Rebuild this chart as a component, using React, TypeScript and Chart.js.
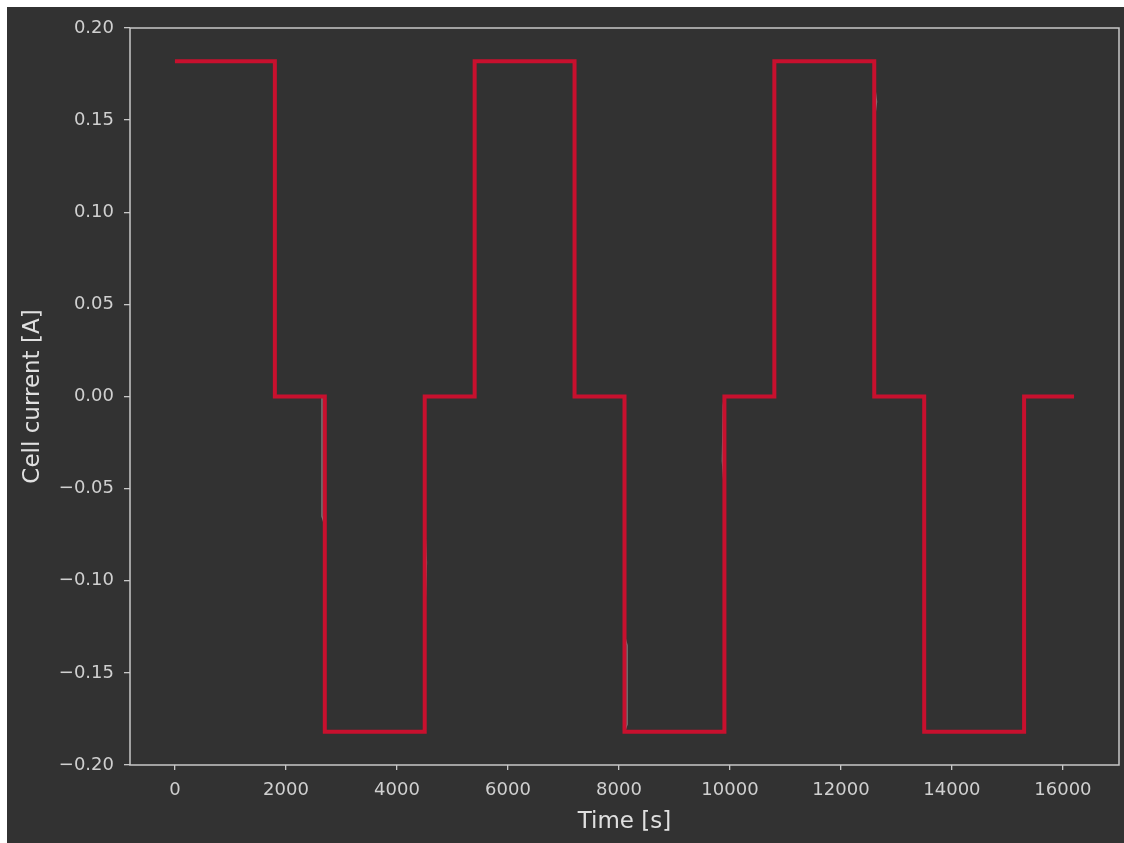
import { useEffect, useRef } from "react";
import { Chart, registerables } from "chart.js";

Chart.register(...registerables);

// Applied current profile: step boundaries [s] and the level held until the next boundary [A]
const stepTimes = [0, 1800, 2700, 4500, 5400, 7200, 8100, 9900, 10800, 12600, 13500, 15300, 16200];
const stepLevels = [0.182, 0, -0.182, 0, 0.182, 0, -0.182, 0, 0.182, 0, -0.182, 0];

// Logged current trace (mostly hidden under the applied profile)
const loggedTime = [
  0, 1800, 1800, 2650, 2650, 2700, 2700, 4500, 4500, 4530, 4500, 4500, 5400, 5400, 7200, 7200,
  8100, 8100, 8145, 8145, 8100, 9900, 9900, 9865, 9880, 9900, 10800, 10800, 12600, 12600,
  12640, 12600, 12600, 13500, 13500, 15300, 15300, 16200,
];
const loggedCurrent = [
  0.182, 0.182, 0, 0, -0.065, -0.07, -0.182, -0.182, -0.12, -0.09, -0.07, 0, 0, 0.182, 0.182, 0,
  0, -0.13, -0.135, -0.178, -0.182, -0.182, -0.05, -0.035, -0.005, 0, 0, 0.182, 0.182, 0.17,
  0.16, 0.15, 0, 0, -0.182, -0.182, 0, 0,
];

const xTicks = [0, 2000, 4000, 6000, 8000, 10000, 12000, 14000, 16000];
const yTicks = [-0.2, -0.15, -0.1, -0.05, 0, 0.05, 0.1, 0.15, 0.2];

const xLimits = [-810, 17010];
const yLimits = [-0.2, 0.2];

const FONT = "'DejaVu Sans', sans-serif";
const TICK_COLOR = "#d0d0d0";
const FRAME_COLOR = "#c8c8c8";

const minus = (s: string) => s.replace("-", "\u2212");

const framePlugin = {
  id: "frame",
  afterDatasetsDraw(chart: any) {
    const { ctx, chartArea } = chart;
    ctx.save();
    ctx.strokeStyle = FRAME_COLOR;
    ctx.lineWidth = 1.5;
    ctx.strokeRect(chartArea.left, chartArea.top, chartArea.right - chartArea.left, chartArea.bottom - chartArea.top);
    ctx.restore();
  },
};

export default function App() {
  const canvasRef = useRef<HTMLCanvasElement | null>(null);

  useEffect(() => {
    const canvas = canvasRef.current;
    if (!canvas) return;

    const appliedPoints: { x: number; y: number }[] = [];
    for (let i = 0; i < stepLevels.length; i++) {
      appliedPoints.push({ x: stepTimes[i], y: stepLevels[i] });
      appliedPoints.push({ x: stepTimes[i + 1], y: stepLevels[i] });
    }
    const loggedPoints = loggedTime.map((t, i) => ({ x: t, y: loggedCurrent[i] }));

    const chart = new Chart(canvas, {
      type: "line",
      data: {
        datasets: [
          {
            data: appliedPoints,
            borderColor: "#c8102e",
            borderWidth: 4,
            pointRadius: 0,
            borderJoinStyle: "miter",
            borderCapStyle: "butt",
            tension: 0,
            order: 0,
          },
          {
            data: loggedPoints,
            borderColor: "rgba(220,220,220,0.45)",
            borderWidth: 1.5,
            pointRadius: 0,
            tension: 0,
            order: 1,
          },
        ],
      },
      options: {
        responsive: false,
        animation: false,
        parsing: false,
        normalized: true,
        layout: { padding: { top: 21, right: 5, left: 0, bottom: 0 } },
        plugins: {
          legend: { display: false },
          tooltip: { enabled: false },
        },
        scales: {
          x: {
            type: "linear",
            min: xLimits[0],
            max: xLimits[1],
            afterBuildTicks: (scale: any) => {
              scale.ticks = xTicks.map((v) => ({ value: v }));
            },
            afterFit: (scale: any) => {
              scale.height = 78;
            },
            grid: {
              drawOnChartArea: false,
              drawTicks: true,
              tickLength: 5,
              color: FRAME_COLOR,
              lineWidth: 1.3,
            },
            border: { display: false },
            ticks: {
              color: TICK_COLOR,
              font: { family: FONT, size: 18 },
              padding: 10,
              maxRotation: 0,
              autoSkip: false,
              callback: (v: any) => minus(String(v)),
            },
            title: {
              display: true,
              text: "Time [s]",
              color: "#e0e0e0",
              font: { family: FONT, size: 23 },
              padding: { top: 0, bottom: 7 },
            },
          },
          y: {
            type: "linear",
            min: yLimits[0],
            max: yLimits[1],
            afterBuildTicks: (scale: any) => {
              scale.ticks = yTicks.map((v) => ({ value: v }));
            },
            afterFit: (scale: any) => {
              scale.width = 123;
            },
            grid: {
              drawOnChartArea: false,
              drawTicks: true,
              tickLength: 6,
              color: FRAME_COLOR,
              lineWidth: 1.3,
            },
            border: { display: false },
            ticks: {
              color: TICK_COLOR,
              font: { family: FONT, size: 18 },
              padding: 10,
              autoSkip: false,
              callback: (v: any) => minus(Number(v).toFixed(2)),
            },
            title: {
              display: true,
              text: "Cell current [A]",
              color: "#e0e0e0",
              font: { family: FONT, size: 23 },
              padding: { top: 12, bottom: 0 },
            },
          },
        },
      },
      plugins: [framePlugin],
    });

    return () => chart.destroy();
  }, []);

  return (
    <div
      style={{
        position: "fixed",
        left: 7,
        top: 7,
        width: 1117,
        height: 836,
        background: "#323232",
      }}
    >
      <canvas ref={canvasRef} width={1117} height={836} style={{ display: "block", width: 1117, height: 836 }} />
    </div>
  );
}
